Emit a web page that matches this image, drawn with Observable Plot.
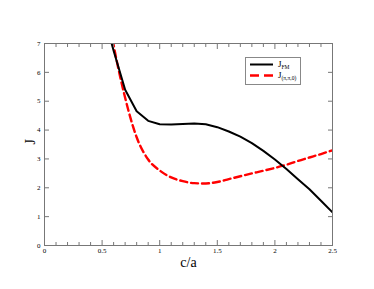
<!DOCTYPE html>
<html>
<head>
<meta charset="utf-8">
<script src="https://cdn.jsdelivr.net/npm/d3@7"></script>
<script src="https://cdn.jsdelivr.net/npm/@observablehq/plot@0.6"></script>
<style>
  html, body { margin: 0; padding: 0; background: #fff; }
  #wrap { position: relative; width: 374px; height: 289px; }
  #legend { position: absolute; left: 0; top: 0; }
</style>
</head>
<body>
<div id="wrap"></div>
<script>
const ca   = [0.5, 0.6, 0.7, 0.8, 0.9, 1.0, 1.1, 1.2, 1.3, 1.4, 1.5, 1.6, 1.7, 1.8, 1.9, 2.0, 2.1, 2.2, 2.3, 2.4, 2.5];
const jFM  = [8.2, 6.75, 5.4, 4.65, 4.32, 4.2, 4.19, 4.21, 4.23, 4.2, 4.1, 3.95, 3.77, 3.55, 3.28, 2.98, 2.65, 2.3, 1.95, 1.55, 1.15];
const jPi  = [9.4, 6.95, 5.12, 3.75, 2.98, 2.6, 2.36, 2.23, 2.16, 2.15, 2.2, 2.3, 2.4, 2.5, 2.59, 2.69, 2.8, 2.93, 3.05, 3.17, 3.3];
const xMajor = [0, 0.5, 1, 1.5, 2, 2.5];
const xMinor = [0.1,0.2,0.3,0.4,0.6,0.7,0.8,0.9,1.1,1.2,1.3,1.4,1.6,1.7,1.8,1.9,2.1,2.2,2.3,2.4];
const yMajor = [0, 1, 2, 3, 4, 5, 6, 7];
const seriesNames = ["FM", "(π,π,0)"];

const fm = ca.map((x, i) => ({x, y: jFM[i]}));
const pi = ca.map((x, i) => ({x, y: jPi[i]}));
const font = "Liberation Serif, Times New Roman, serif";
const axisColor = "#777";

const chart = Plot.plot({
  width: 374, height: 289,
  marginLeft: 44, marginRight: 42, marginTop: 43, marginBottom: 44,
  style: {fontFamily: font, background: "#fff", overflow: "visible", color: "#000"},
  x: {domain: [0, 2.5]},
  y: {domain: [0, 7]},
  marks: [
    Plot.line(pi, {x: "x", y: "y", stroke: "#ff0000", strokeWidth: 2.4, strokeDasharray: "7,4", curve: "monotone-x", clip: true}),
    Plot.line(fm, {x: "x", y: "y", stroke: "#000", strokeWidth: 2, clip: true}),
    Plot.frame({stroke: axisColor}),
    Plot.axisX({anchor: "bottom", ticks: xMajor, tickSize: 0, tickPadding: 3, fontSize: 7, fill: "#000", label: null, tickFormat: d => String(d)}),
    Plot.axisX({anchor: "bottom", ticks: xMajor, tickSize: -5, tickPadding: 0, text: null, label: null, stroke: axisColor}),
    Plot.axisX({anchor: "bottom", ticks: xMinor, tickSize: -3, text: null, label: null, stroke: axisColor}),
    Plot.axisX({anchor: "top", ticks: xMajor, tickSize: -5, text: null, label: null, stroke: axisColor}),
    Plot.axisX({anchor: "top", ticks: xMinor, tickSize: -3, text: null, label: null, stroke: axisColor}),
    Plot.axisY({anchor: "left", ticks: yMajor, tickSize: 0, tickPadding: 4, fontSize: 7, fill: "#000", label: null, tickFormat: d => String(d)}),
    Plot.axisY({anchor: "left", ticks: yMajor, tickSize: -5, text: null, label: null, stroke: axisColor}),
    Plot.axisY({anchor: "right", ticks: yMajor, tickSize: -5, text: null, label: null, stroke: axisColor}),
    Plot.text(["c/a"], {frameAnchor: "bottom", dy: 17, fontSize: 14, lineAnchor: "middle", fill: "#000"}),
    Plot.text(["J"], {frameAnchor: "left", dx: -14, fontSize: 14, rotate: -90, fill: "#000"})
  ]
});
document.getElementById("wrap").appendChild(chart);

// legend overlay
const lg = d3.select("#wrap").append("svg").attr("id", "legend")
  .attr("width", 374).attr("height", 289).style("font-family", font);
lg.append("rect").attr("x", 245.5).attr("y", 57.5).attr("width", 55).attr("height", 27)
  .attr("fill", "#fff").attr("stroke", "#888");
const entries = [
  {name: seriesNames[0], stroke: "#000", dash: null, w: 2},
  {name: seriesNames[1], stroke: "#ff0000", dash: "9,5", w: 2.4}
];
entries.forEach((e, i) => {
  const yy = 64.5 + i * 11;
  lg.append("line").attr("x1", 250).attr("x2", 273).attr("y1", yy).attr("y2", yy)
    .attr("stroke", e.stroke).attr("stroke-width", e.w).attr("stroke-dasharray", e.dash);
  const t = lg.append("text").attr("x", 278).attr("y", yy + 2).attr("font-size", 9).attr("fill", "#000");
  t.append("tspan").text("J");
  t.append("tspan").attr("font-size", 5.5).attr("dy", 2).text(e.name);
});
</script>
</body>
</html>
